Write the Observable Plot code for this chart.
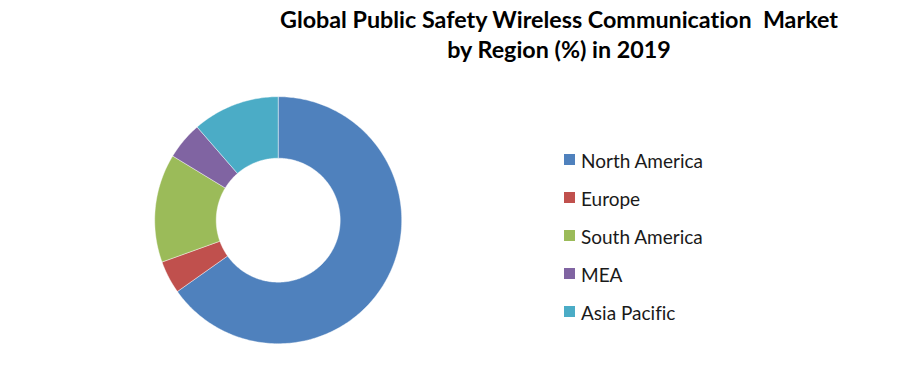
<!DOCTYPE html>
<html>
<head>
<meta charset="utf-8">
<script src="https://cdn.jsdelivr.net/npm/d3@7"></script>
<script src="https://cdn.jsdelivr.net/npm/@observablehq/plot@0.6"></script>
<style>
  html, body { margin: 0; padding: 0; background: #fff; }
  #wrap { position: relative; width: 897px; height: 384px; overflow: hidden; }
  #title { position: absolute; left: 559px; top: 4px; transform: translateX(-50%);
    font-family: Lato, sans-serif; font-weight: bold; font-size: 23.3px; line-height: 30px;
    text-align: center; color: #000; white-space: nowrap; font-variant-ligatures: none; }
  #legend { position: absolute; left: 564px; top: 141px; font-family: Lato, sans-serif;
    font-size: 19px; color: #1a1a1a; font-variant-ligatures: none; }
  .item { height: 38px; display: flex; align-items: center; white-space: nowrap; }
  .sw { width: 11px; height: 11px; margin-right: 6px; margin-top: -1px; }
  #chart { position: absolute; left: 0; top: 0; }
</style>
</head>
<body>
<div id="wrap">
  <div id="chart"></div>
  <div id="title">Global Public Safety Wireless Communication&nbsp; Market<br>by Region (%) in 2019</div>
  <div id="legend"></div>
</div>
<script>
const regions = ["North America", "Europe", "South America", "MEA", "Asia Pacific"];
const shares = [65.2, 4.3, 14.2, 4.9, 11.4];
const colors = ["#4F81BD", "#C0504D", "#9BBB59", "#8064A2", "#4BACC6"];

const W = 897, H = 384;
const cx = 277.7, cy = 219.7, R = 123.5;
const inner = 0.502;

// build slice outlines in unit space (outer radius = 1), clockwise from 12 o'clock
const total = d3.sum(shares);
const pts = [];
let acc = 0;
regions.forEach((name, i) => {
  const a0 = acc / total * 2 * Math.PI;
  acc += shares[i];
  const a1 = acc / total * 2 * Math.PI;
  const n = Math.max(2, Math.ceil((a1 - a0) / (Math.PI / 180)));
  const ring = [];
  for (let k = 0; k <= n; k++) { const a = a0 + (a1 - a0) * k / n; ring.push([Math.sin(a), Math.cos(a)]); }
  for (let k = n; k >= 0; k--) { const a = a0 + (a1 - a0) * k / n; ring.push([inner * Math.sin(a), inner * Math.cos(a)]); }
  ring.push(ring[0]);
  ring.forEach(([x, y]) => pts.push({region: name, x, y}));
});

const chart = Plot.plot({
  width: W, height: H,
  margin: 0,
  x: {domain: [-cx / R, (W - cx) / R], axis: null},
  y: {domain: [-(H - cy) / R, cy / R], axis: null},
  color: {domain: regions, range: colors},
  marks: [
    Plot.line(pts, {x: "x", y: "y", z: "region", fill: "region", stroke: "#ffffff", strokeWidth: 0.6, strokeOpacity: 0.7, curve: "linear"})
  ]
});
document.getElementById("chart").appendChild(chart);

const color = chart.scale("color");
const legend = document.getElementById("legend");
regions.forEach(r => {
  const it = document.createElement("div"); it.className = "item";
  const sw = document.createElement("div"); sw.className = "sw"; sw.style.background = color.apply(r);
  const tx = document.createElement("span"); tx.textContent = r;
  it.appendChild(sw); it.appendChild(tx); legend.appendChild(it);
});
</script>
</body>
</html>
